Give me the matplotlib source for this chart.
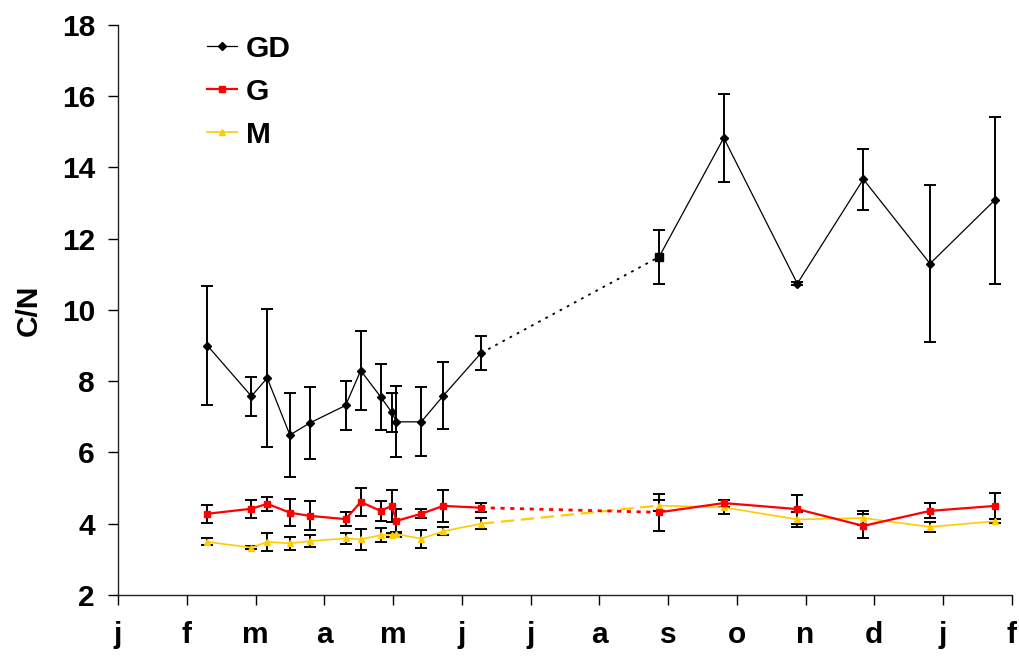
import numpy as np
import matplotlib.pyplot as plt

# 月份刻度
month_labels = ['j', 'f', 'm', 'a', 'm', 'j', 'j', 'a', 's', 'o', 'n', 'd', 'j', 'f']

# 采样时间（以月为单位）
t = [1.30, 1.94, 2.17, 2.50, 2.79, 3.31, 3.53, 3.82, 3.98, 4.05, 4.41, 4.73, 5.28,
     7.87, 8.81, 9.88, 10.84, 11.81, 12.75]

gd = [9.00, 7.58, 8.09, 6.49, 6.83, 7.32, 8.30, 7.56, 7.13, 6.86, 6.86, 7.59, 8.79,
      11.49, 14.83, 10.74, 13.67, 11.30, 13.08]
gd_err = [1.68, 0.55, 1.94, 1.18, 1.00, 0.69, 1.11, 0.93, 0.55, 1.00, 0.97, 0.94, 0.47,
          0.75, 1.23, 0.05, 0.85, 2.21, 2.34]

g = [4.28, 4.42, 4.56, 4.31, 4.22, 4.13, 4.61, 4.36, 4.50, 4.08, 4.28, 4.50, 4.45,
     4.32, 4.58, 4.41, 3.94, 4.36, 4.50]
g_err = [0.25, 0.25, 0.20, 0.38, 0.41, 0.19, 0.39, 0.29, 0.44, 0.33, 0.12, 0.44, 0.13,
         0.52, 0.10, 0.41, 0.33, 0.21, 0.36]

m = [3.49, 3.33, 3.49, 3.45, 3.51, 3.59, 3.56, 3.68, 3.69, 3.71, 3.58, 3.79, 4.00,
     4.51, 4.46, 4.12, 4.16, 3.91, 4.07]
m_err = [0.10, 0.05, 0.25, 0.19, 0.16, 0.16, 0.29, 0.20, 0.05, 0.07, 0.25, 0.12, 0.16,
         0.16, 0.20, 0.20, 0.20, 0.13, 0.05]

gap = 12  # 缺测段前最后一个点
yellow = '#FFCC00'
fs = 21.5

plt.rcParams['font.family'] = ['Liberation Sans', 'DejaVu Sans']
plt.rcParams['font.weight'] = 'bold'

fig = plt.figure(figsize=(10.2, 6.57), dpi=100)
ax = fig.add_axes([0.1157, 0.0944, 0.8763, 0.8676])

ebkw = dict(fmt='none', ecolor='black', elinewidth=1.4, capsize=4, capthick=1.4, zorder=2)

for y, e, col, mk, ms, lw, ls in [
        (m, m_err, yellow, '^', 4.5, 1.2, (0, (6, 3))),
        (g, g_err, 'red', 's', 4, 1.6, (0, (1.5, 2))),
        (gd, gd_err, 'black', 'D', 4, 0.9, (0, (1.5, 3)))]:
    ax.errorbar(t, y, yerr=e, **ebkw)
    ax.plot(t[:gap + 1], y[:gap + 1], color=col, lw=lw, marker=mk, ms=ms, zorder=3)
    ax.plot(t[gap + 1:], y[gap + 1:], color=col, lw=lw, marker=mk, ms=ms, zorder=3)
    ax.plot(t[gap:gap + 2], y[gap:gap + 2], color=col, lw=lw + 0.4, ls=ls, zorder=3)

# GD 在九月的点为方形
ax.plot(t[gap + 1], gd[gap + 1], 's', color='black', ms=6, zorder=4)

# 图例
h_gd, = ax.plot([], [], color='black', lw=0.9, marker='D', ms=4, label='GD')
h_g, = ax.plot([], [], color='red', lw=1.6, marker='s', ms=4, label='G')
h_m, = ax.plot([], [], color=yellow, lw=1.2, marker='^', ms=4.5, label='M')
ax.legend(handles=[h_gd, h_g, h_m], loc='upper left', bbox_to_anchor=(0.0996, 0.983),
          frameon=False, handlelength=1.0, handletextpad=0.3,
          labelspacing=0.5, borderpad=0, borderaxespad=0,
          prop={'weight': 'bold', 'size': fs})

ax.set_xlim(0, 13)
ax.set_ylim(2, 18)
ax.set_xticks(np.arange(len(month_labels)))
ax.set_xticklabels(month_labels)
ax.set_yticks(np.arange(2, 19, 2))
ax.tick_params(axis='both', labelsize=fs, direction='out', length=7.5, width=1)
ax.tick_params(axis='x', pad=11)
ax.tick_params(axis='y', pad=9)
ax.set_ylabel('C/N', fontsize=fs, fontweight='bold', labelpad=14)

ax.spines['top'].set_visible(False)
ax.spines['right'].set_visible(False)
for sp in ['left', 'bottom']:
    ax.spines[sp].set_linewidth(1)
    ax.spines[sp].set_color('#222222')

fig.savefig('out.png', dpi=100)
